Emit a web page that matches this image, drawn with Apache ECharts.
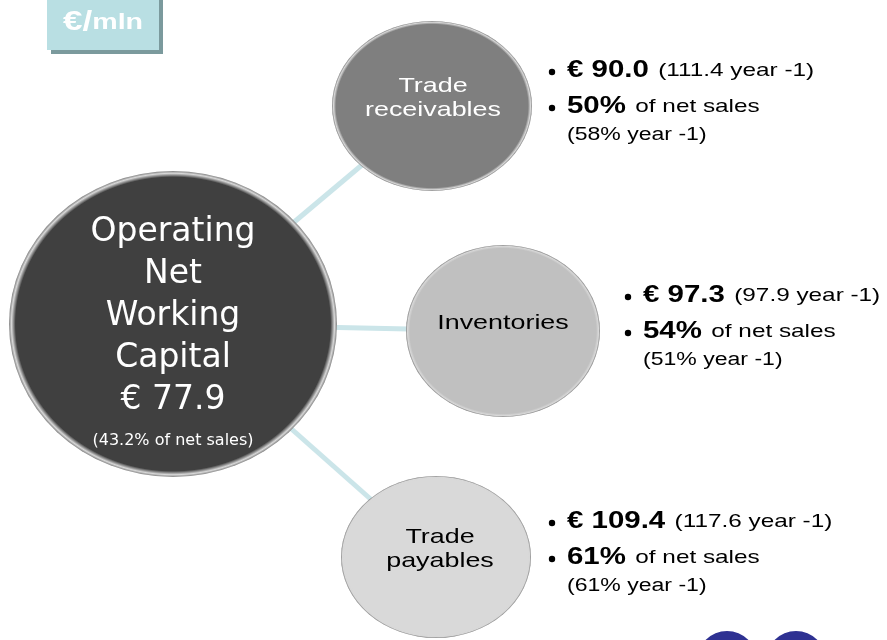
<!DOCTYPE html>
<html>
<head>
<meta charset="utf-8">
<script src="https://cdn.jsdelivr.net/npm/echarts@6/dist/echarts.min.js"></script>
<style>
  html, body { margin: 0; padding: 0; background: #fff; }
  #chart { width: 887px; height: 640px; }
</style>
</head>
<body>
<div id="chart"></div>
<script>
// data
const nodeNames = ['Operating\nNet\nWorking\nCapital', 'Trade\nreceivables', 'Inventories', 'Trade\npayables']
const values = [77.9, 90.0, 97.3, 109.4]
const prevValues = [null, 111.4, 97.9, 117.6]
const pctSales = [43.2, 50, 54, 61]
const prevPct = [null, 58, 51, 61]

// layout of the bubbles (pixels on an 887x640 canvas)
const layout = [
  { x: 173, y: 324, w: 328, h: 306, color: '#404040', text: '#fff' },
  { x: 432, y: 106, w: 200, h: 170, color: '#7f7f7f', text: '#fff', gap: 20, tx: 433 },
  { x: 503, y: 331, w: 194, h: 172, color: '#c0c0c0', text: '#000', gap: 28, tx: 503 },
  { x: 436, y: 557, w: 190, h: 162, color: '#d9d9d9', text: '#000', gap: 21, tx: 440 }
]
const STRETCH = 1.28 // slide text is drawn wider than the font

function gloss(base) {
  return {
    type: 'radial', x: 0.5, y: 0.5, r: 0.5,
    colorStops: [
      { offset: 0, color: base },
      { offset: 0.96, color: base },
      { offset: 0.985, color: '#d8d8d8' },
      { offset: 1, color: '#808080' }
    ]
  }
}

const circles = layout.map((l, i) => ({
  value: [l.x, l.y],
  symbolSize: [l.w, l.h],
  itemStyle: { color: gloss(l.color), opacity: 1 },
  label: i === 0
    ? {
        show: true,
        formatter: nodeNames[i] + '\n€ ' + values[i].toFixed(1) + '\n{s|(' + pctSales[i] + '% of net sales)}',
        color: '#fff',
        fontFamily: 'DejaVu Sans',
        fontSize: 33,
        lineHeight: 42,
        offset: [0, 12],
        rich: { s: { fontSize: 16, lineHeight: 40, color: '#fff', fontFamily: 'DejaVu Sans' } }
      }
    : { show: false }
}))

const links = layout.slice(1).map((l) => ({ coords: [[layout[0].x, layout[0].y], [l.x, l.y]] }))

const txt = { fontFamily: 'Liberation Sans', fill: '#000' }

// annotation text (stretched horizontally like on the slide)
function stretchedText(x, y, text, rich, align) {
  return {
    type: 'text', x: x, y: y, z: 10, scaleX: STRETCH, originX: 0, originY: 0,
    style: { text: text, rich: rich, align: align || 'left', verticalAlign: 'middle' }
  }
}

const graphics = []
layout.slice(1).forEach((l, k) => {
  const i = k + 1
  // inner name
  const lines = nodeNames[i].split('\n')
  lines.forEach((s, j) => {
    const y = l.y - 8 + (j - (lines.length - 1) / 2) * 24
    graphics.push(stretchedText(l.tx, y, '{t|' + s + '}',
      { t: { fontFamily: 'Liberation Sans', fontSize: 21, fill: l.text } }, 'center'))
  })
  // bullets
  const dx = l.x + l.w / 2 + l.gap
  const y0 = l.y - 35
  const rich = {
    b: Object.assign({}, txt, { fontSize: 23, fontWeight: 'bold' }),
    n: Object.assign({}, txt, { fontSize: 19, padding: [0, 0, 0, 4] }),
    p: Object.assign({}, txt, { fontSize: 18 })
  }
  graphics.push({ type: 'circle', z: 10, shape: { cx: dx, cy: y0 + 1, r: 3.2 }, style: { fill: '#000' } })
  graphics.push({ type: 'circle', z: 10, shape: { cx: dx, cy: y0 + 37, r: 3.2 }, style: { fill: '#000' } })
  graphics.push(stretchedText(dx + 15, y0,
    '{b|€ ' + values[i].toFixed(1) + '} {n|(' + prevValues[i] + ' year -1)}', rich))
  graphics.push(stretchedText(dx + 15, y0 + 36,
    '{b|' + pctSales[i] + '%} {n|of net sales}', rich))
  graphics.push(stretchedText(dx + 15, y0 + 64,
    '{p|(' + prevPct[i] + '% year -1)}', rich))
})

const option = {
  animation: false,
  backgroundColor: '#fff',
  grid: { left: 0, right: 0, top: 0, bottom: 0 },
  xAxis: { type: 'value', min: 0, max: 887, show: false },
  yAxis: { type: 'value', min: 0, max: 640, inverse: true, show: false },
  series: [
    {
      type: 'lines',
      coordinateSystem: 'cartesian2d',
      z: 1,
      lineStyle: { color: '#cbe5e9', width: 5, opacity: 1 },
      data: links
    },
    {
      type: 'scatter',
      symbol: 'circle',
      z: 2,
      data: circles
    }
  ],
  graphic: [
    {
      type: 'rect',
      shape: { x: 47, y: -5, width: 112, height: 55 },
      style: { fill: '#b9dfe3', shadowColor: '#7b9a9d', shadowOffsetX: 4, shadowOffsetY: 4, shadowBlur: 0 }
    },
    {
      type: 'text',
      x: 103, y: 23, scaleX: 1.3,
      style: {
        text: '{a|€/}{b|mln}',
        align: 'center', verticalAlign: 'middle',
        rich: {
          a: { fontFamily: 'Liberation Sans', fontWeight: 'bold', fontSize: 27, fill: '#fff' },
          b: { fontFamily: 'Liberation Sans', fontWeight: 'bold', fontSize: 22, fill: '#fff' }
        }
      }
    },
    { type: 'circle', shape: { cx: 727, cy: 661, r: 30 }, style: { fill: '#2e3192' } },
    { type: 'circle', shape: { cx: 796, cy: 661, r: 30 }, style: { fill: '#2e3192' } }
  ].concat(graphics)
}

const myChart = echarts.init(document.getElementById('chart'))
myChart.setOption(option)
</script>
</body>
</html>
